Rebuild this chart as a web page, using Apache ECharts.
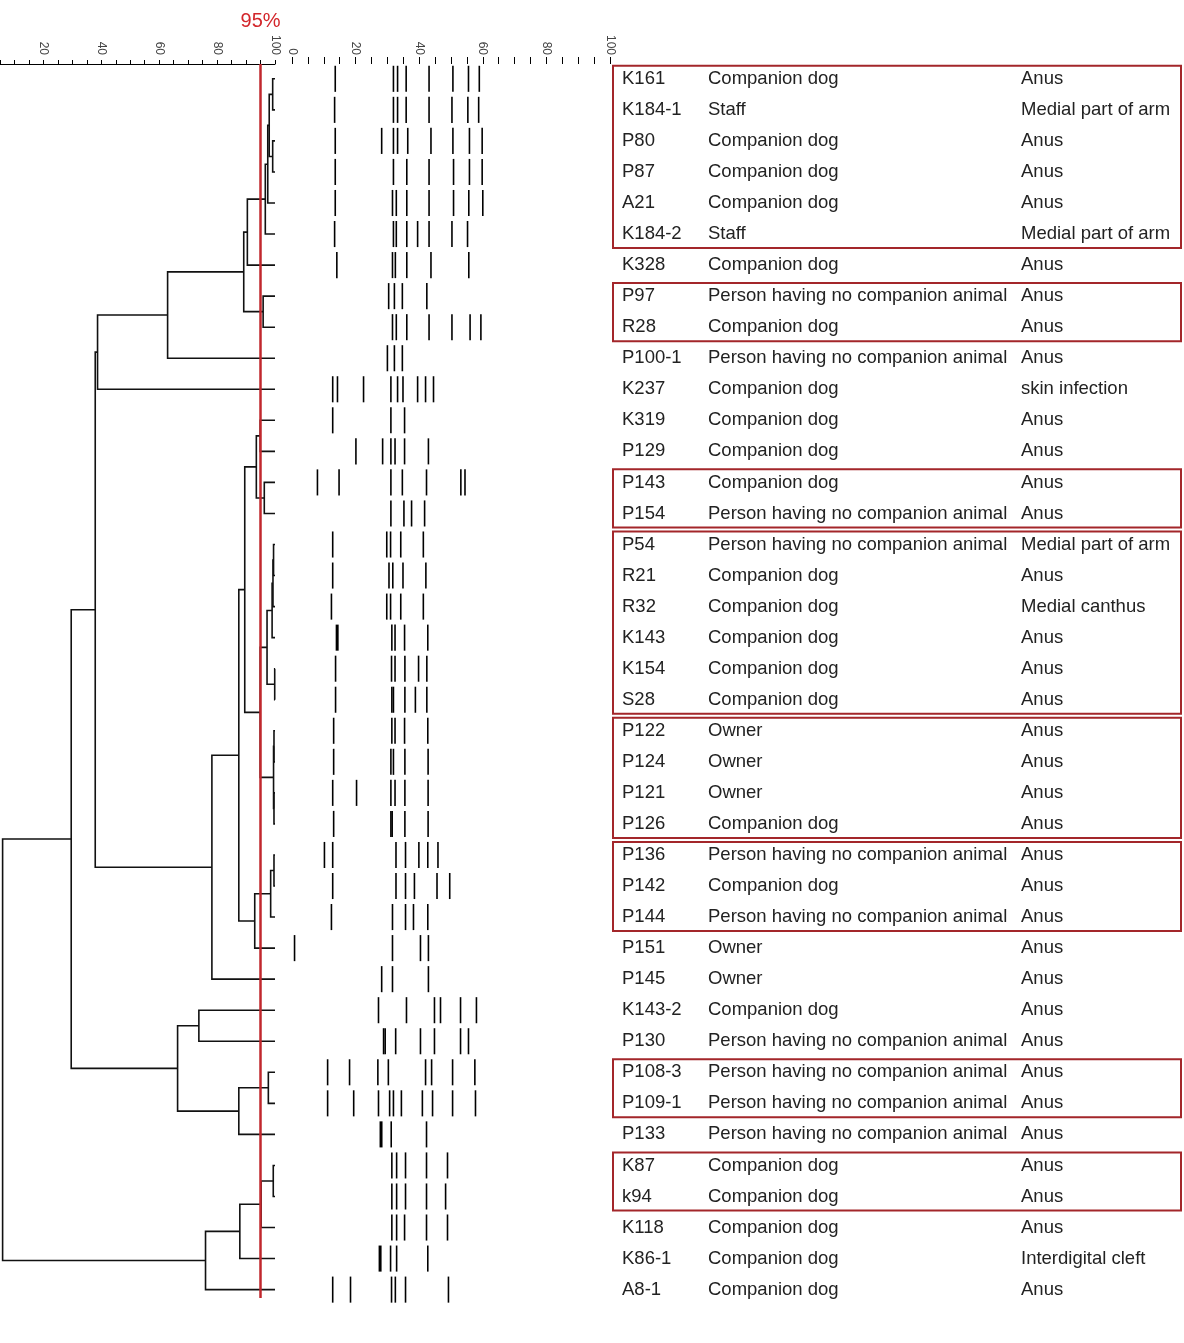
<!DOCTYPE html>
<html><head><meta charset="utf-8">
<script src="https://cdn.jsdelivr.net/npm/echarts@6/dist/echarts.min.js"></script>
<style>html,body{margin:0;padding:0;background:#fff}#c{width:1184px;height:1343px}</style>
</head><body><div id="c"></div><script>
// ---------- data ----------
const strains = ['K161','K184-1','P80','P87','A21','K184-2','K328','P97','R28','P100-1','K237','K319','P129','P143','P154','P54','R21','R32','K143','K154','S28','P122','P124','P121','P126','P136','P142','P144','P151','P145','K143-2','P130','P108-3','P109-1','P133','K87','k94','K118','K86-1','A8-1'];
const sources = ['Companion dog','Staff','Companion dog','Companion dog','Companion dog','Staff','Companion dog','Person having no companion animal','Companion dog','Person having no companion animal','Companion dog','Companion dog','Companion dog','Companion dog','Person having no companion animal','Person having no companion animal','Companion dog','Companion dog','Companion dog','Companion dog','Companion dog','Owner','Owner','Owner','Companion dog','Person having no companion animal','Companion dog','Person having no companion animal','Owner','Owner','Companion dog','Person having no companion animal','Person having no companion animal','Person having no companion animal','Person having no companion animal','Companion dog','Companion dog','Companion dog','Companion dog','Companion dog'];
const sites = ['Anus','Medial part of arm','Anus','Anus','Anus','Medial part of arm','Anus','Anus','Anus','Anus','skin infection','Anus','Anus','Anus','Anus','Medial part of arm','Anus','Medial canthus','Anus','Anus','Anus','Anus','Anus','Anus','Anus','Anus','Anus','Anus','Anus','Anus','Anus','Anus','Anus','Anus','Anus','Anus','Anus','Anus','Interdigital cleft','Anus'];
// band positions (gel scale 0-100), one list per lane
const bands = [
 [13.6,31.9,33.2,35.9,43.1,50.6,55.5,58.9],
 [13.4,31.9,33.2,35.9,43.1,50.3,55.3,58.7],
 [13.6,28.2,31.9,33.2,36.4,43.7,50.6,55.8,59.8],
 [13.6,31.9,36.1,43.1,50.8,55.8,59.8],
 [13.6,31.6,32.8,36.1,43.1,50.8,55.6,60.0],
 [13.4,31.9,32.8,36.1,39.5,43.1,50.3,55.2],
 [14.1,31.6,32.5,36.1,43.7,55.6],
 [30.4,32.2,34.7,42.4],
 [31.6,32.8,36.1,43.1,50.3,56.0,59.4],
 [30.0,32.2,34.7],
 [12.8,14.3,22.5,31.1,33.2,34.9,39.5,42.0,44.5],
 [12.8,31.1,35.4],
 [20.1,28.5,31.1,32.4,35.4,42.9],
 [8.0,14.8,31.1,34.7,42.3,53.1,54.4],
 [31.1,35.2,37.6,41.7],
 [12.8,29.8,31.0,34.2,41.3],
 [12.8,30.5,31.7,34.9,42.1],
 [12.4,29.8,31.0,34.2,41.3],
 [14.2,31.4,32.4,35.4,42.7],
 [13.7,31.3,32.4,35.5,39.8,42.4],
 [13.7,31.4,31.9,35.5,38.8,42.4],
 [13.1,31.4,32.4,35.4,42.7],
 [13.1,31.1,31.9,35.5,42.8],
 [12.8,20.3,31.1,32.4,35.5,42.8],
 [13.1,31.1,31.5,35.5,42.8],
 [10.2,12.8,32.7,35.7,39.9,42.7,45.9],
 [12.8,32.7,35.7,38.5,45.6,49.6],
 [12.4,31.6,35.7,38.2,42.7],
 [0.8,31.6,40.4,42.9],
 [28.2,31.6,42.9],
 [27.2,36.0,44.8,46.7,53.0,58.0],
 [28.8,29.3,32.6,40.4,44.8,53.0,55.5],
 [11.2,18.1,27.0,30.3,42.0,43.9,50.5,57.5],
 [11.2,19.4,27.2,30.7,31.9,34.4,41.0,44.2,50.5,57.7],
 [28.0,31.2,42.3],
 [31.4,32.9,35.7,42.3,48.9],
 [31.4,32.9,35.7,42.3,48.3],
 [31.4,32.9,35.4,42.3,48.9],
 [27.7,31.0,32.9,42.7],
 [12.8,18.4,31.3,32.5,35.7,49.2]
];
// intense bands: [lane, position]
const strongBands = [[18,14.2],[34,28.0],[38,27.7]];
// linkage: [childA, childB, similarity %]; ids >= 40 are earlier merges (40 + index)
const merges = [
 [0,1,99.2],[2,3,99.2],[40,41,98.0],[42,4,97.5],[43,5,96.65],[44,6,90.45],
 [7,8,95.9],[45,46,89.2],[47,9,62.9],[48,10,38.7],
 [11,12,94.9],[13,14,96.3],[50,51,93.55],
 [15,16,99.5],[53,17,99.3],[54,18,99.0],[19,20,99.9],[55,56,97.25],
 [21,22,99.65],[23,24,99.65],[58,59,99.5],[57,60,94.9],[52,61,89.55],
 [25,26,99.65],[63,27,98.5],[64,28,93.0],[62,65,87.5],[66,29,78.2],
 [49,67,37.9],
 [30,31,73.7],[32,33,97.7],[70,34,87.5],[69,71,66.35],[68,72,29.6],
 [35,36,99.4],[74,37,95.2],[75,38,87.85],[76,39,76.0],
 [73,77,5.9]
];
const clusterBoxes = [[0,5],[7,8],[13,14],[15,20],[21,24],[25,27],[32,33],[35,36]];
const cutoff = 95;
const dendroTickLabels = [20,40,60,80,100];
const gelTickLabels = [0,20,40,60,80,100];

// ---------- build ----------
const nLeaf = strains.length;
const nodeH = [], nodeY = [];
for (let i = 0; i < nLeaf; i++) { nodeH[i] = 100; nodeY[i] = i; }
const dendroData = merges.map((m, k) => {
  const [a, b, h] = m; const id = nLeaf + k;
  nodeH[id] = h; nodeY[id] = (nodeY[a] + nodeY[b]) / 2;
  return [h, nodeY[a], nodeY[b], nodeH[a], nodeH[b]];
});
const strongSet = new Set(strongBands.map(s => s[0] + ':' + s[1]));
const bandData = [];
bands.forEach((lane, i) => lane.forEach(p => bandData.push([p, i, strongSet.has(i + ':' + p) ? 1 : 0])));
const tableData = strains.map((s, i) => [0, i]);
const boxData = clusterBoxes.map(b => [0, b[0], b[1]]);

const TOP = 64, H = 1234, YMIN = -0.477, YMAX = 39.27;
const FONT = '"Liberation Sans", Arial, sans-serif';
const yAx = g => ({ type: 'value', gridIndex: g, inverse: true, min: YMIN, max: YMAX, show: false });

const chart = echarts.init(document.getElementById('c'), null, { renderer: 'canvas' });
chart.setOption({
  backgroundColor: '#fff',
  animation: false,
  grid: [
    { left: 0, top: TOP, width: 275, height: H },
    { left: 292, top: TOP, width: 318, height: H },
    { left: 612, top: TOP, width: 570, height: H }
  ],
  xAxis: [
    { type: 'value', gridIndex: 0, position: 'top', min: 5, max: 100, interval: 5,
      axisLine: { show: true, onZero: false, lineStyle: { color: '#000', width: 1 } },
      axisTick: { show: true, inside: false, length: 4, lineStyle: { color: '#000' } },
      splitLine: { show: false },
      axisLabel: { rotate: 90, margin: 9, fontSize: 12, color: '#444', fontFamily: FONT,
        formatter: v => dendroTickLabels.includes(v) ? String(v) : '' } },
    { type: 'value', gridIndex: 1, position: 'top', min: 0, max: 100, interval: 5,
      axisLine: { show: false, onZero: false },
      axisTick: { show: true, inside: false, length: 7, lineStyle: { color: '#000' } },
      splitLine: { show: false },
      axisLabel: { rotate: 90, margin: 9, fontSize: 12, color: '#444', fontFamily: FONT,
        formatter: v => gelTickLabels.includes(v) ? String(v) : '' } },
    { type: 'value', gridIndex: 2, min: 0, max: 1, show: false }
  ],
  yAxis: [yAx(0), yAx(1), yAx(2)],
  series: [
    { type: 'custom', name: 'dendrogram', xAxisIndex: 0, yAxisIndex: 0, clip: false,
      encode: { x: [0, 3, 4], y: [1, 2] }, data: dendroData,
      renderItem: (params, api) => {
        const h = api.value(0), ya = api.value(1), yb = api.value(2), ha = api.value(3), hb = api.value(4);
        return { type: 'polyline',
          shape: { points: [api.coord([ha, ya]), api.coord([h, ya]), api.coord([h, yb]), api.coord([hb, yb])] },
          style: { stroke: '#111', lineWidth: 1.6, fill: null } };
      } },
    { type: 'scatter', name: 'cutoff', xAxisIndex: 0, yAxisIndex: 0, data: [], silent: true,
      markLine: { silent: true, symbol: ['none', 'none'], label: { show: false },
        lineStyle: { color: '#c1272d', width: 2.5, type: 'solid' },
        data: [{ xAxis: cutoff }] } },
    { type: 'custom', name: 'bands', xAxisIndex: 1, yAxisIndex: 1, clip: false,
      encode: { x: 0, y: 1 }, data: bandData,
      renderItem: (params, api) => {
        const c = api.coord([api.value(0), api.value(1)]);
        const rh = api.size([0, 1])[1] * 0.84;
        const w = api.value(2) ? 3 : 1.6;
        return { type: 'rect', shape: { x: c[0] - w / 2, y: c[1] - rh / 2, width: w, height: rh }, style: { fill: '#000' } };
      } },
    { type: 'custom', name: 'table', xAxisIndex: 2, yAxisIndex: 2, clip: false,
      encode: { x: 0, y: 1 }, data: tableData,
      renderItem: (params, api) => {
        const i = params.dataIndex; const c = api.coord([0, api.value(1)]);
        const st = t => ({ text: t, fill: '#222', font: '18.5px ' + FONT, verticalAlign: 'middle', align: 'left' });
        return { type: 'group', children: [
          { type: 'text', x: c[0] + 10, y: c[1], style: st(strains[i]) },
          { type: 'text', x: c[0] + 96, y: c[1], style: st(sources[i]) },
          { type: 'text', x: c[0] + 409, y: c[1], style: st(sites[i]) }
        ] };
      } },
    { type: 'custom', name: 'boxes', xAxisIndex: 2, yAxisIndex: 2, clip: false,
      encode: { x: 0, y: [1, 2] }, data: boxData,
      renderItem: (params, api) => {
        const p1 = api.coord([0, api.value(1) - 0.42]);
        const p2 = api.coord([1, api.value(2) + 0.45]);
        return { type: 'rect', shape: { x: p1[0] + 1, y: p1[1], width: p2[0] - p1[0] - 2, height: p2[1] - p1[1] },
          style: { stroke: '#a3262a', lineWidth: 2, fill: null } };
      } }
  ]
});
const cx = chart.convertToPixel({ xAxisIndex: 0 }, cutoff);
chart.setOption({ graphic: [{ type: 'text', x: cx, y: 21,
  style: { text: cutoff + '%', fill: '#d3262b', font: '20px ' + FONT, align: 'center', verticalAlign: 'middle' } }] });
</script></body></html>
